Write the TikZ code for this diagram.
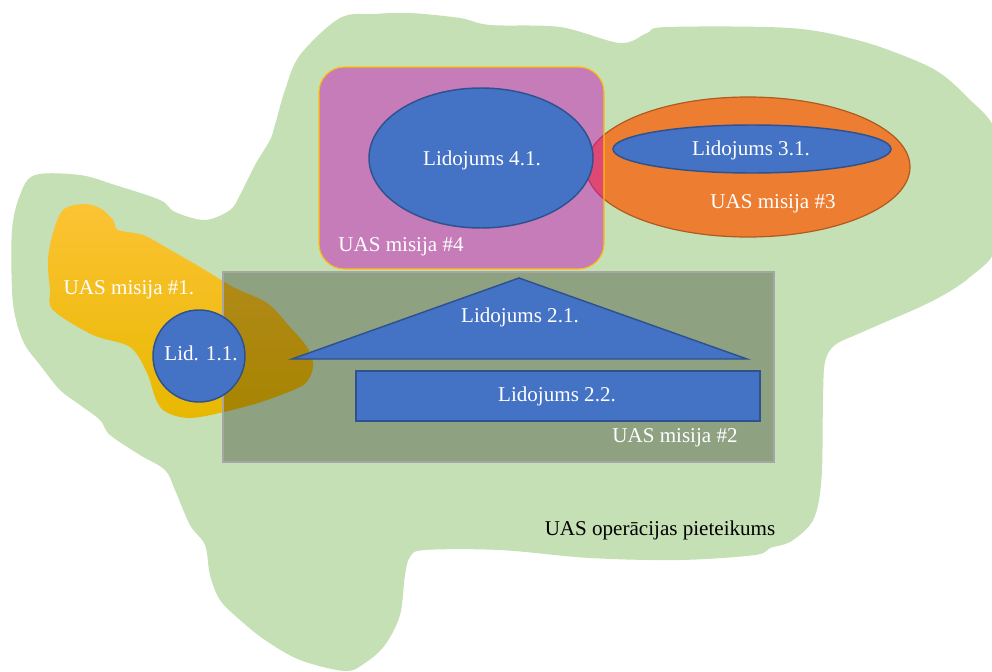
\documentclass[tikz,border=0pt]{standalone}
\usepackage{fontspec}
\setmainfont{Liberation Serif}
\usetikzlibrary{shapes.geometric}
\definecolor{gblob}{HTML}{C5E0B4}
\definecolor{yel}{HTML}{FFC000}
\definecolor{yeltop}{HTML}{FCC334}
\definecolor{yelbot}{HTML}{E8B800}
\definecolor{blu}{HTML}{4472C4}
\definecolor{bluline}{HTML}{2F528F}
\definecolor{org}{HTML}{ED7D31}
\definecolor{orgline}{HTML}{AE5A21}
\definecolor{pnk}{RGB}{203,13,193}
\definecolor{gryline}{HTML}{A6A6A6}
\tikzset{
  flight/.style={fill=blu, draw=bluline, line width=1.1pt},
  lbl/.style={text=white, font=\fontsize{15.8}{18}\selectfont, inner sep=0pt},
  lblk/.style={text=black, font=\fontsize{15.8}{18}\selectfont, inner sep=0pt}
}
\begin{document}
\begin{tikzpicture}[x=0.75pt,y=-0.75pt]
\useasboundingbox (0,0) rectangle (992,671);
\clip (0,0) rectangle (992,671);
% operation area (green)
\fill[gblob] plot[smooth cycle, tension=0.55] coordinates {
(340,18) (375,14) (410,13) (460,18) (490,25) (560,27) (620,43) (647,33) (667,27)
(790,28) (857,40) (907,57) (940,73) (967,97) (995,130) (998,190) (995,250)
(970,277) (947,293) (920,307) (890,320) (858,334) (835,345) (825,362) (823,400)
(822,470) (818,505) (810,525) (790,542) (770,548) (755,555) (680,560) (590,558)
(500,550) (425,550) (410,557) (405,575) (400,615) (385,645) (365,663) (345,671)
(300,660) (265,640) (240,620) (220,600) (210,575) (205,545) (190,525) (175,490)
(165,470) (140,455) (110,435) (100,420) (80,405) (60,390) (40,365) (25,345)
(16,320) (12,290) (12,230) (20,195) (35,175) (80,175) (115,185) (160,200)
(175,212) (205,220) (230,210) (240,195) (255,165) (270,140) (275,125) (285,90) (300,55)};
% mission 1 (yellow)
\shade[top color=yeltop, middle color=yel, bottom color=yelbot] plot[smooth cycle, tension=0.55] coordinates {
(63,210) (83,204) (100,208) (113,220) (118,230) (143,235) (167,248) (200,267)
(233,287) (267,303) (290,327) (307,347) (313,363) (310,377) (300,387) (267,400)
(240,408) (200,417) (180,417) (163,410) (155,397) (147,373) (130,347) (93,335)
(53,310) (50,290) (48,260) (53,233)};
% mission 3 (orange)
\path[fill=org, draw=orgline, line width=0.9pt] (748,167) ellipse [x radius=121.5pt, y radius=52.5pt];
% mission 4 (pink)
\path[fill=pnk, fill opacity=0.47, draw=yel, line width=0.8pt, rounded corners=19pt] (319,67) rectangle (604,269);
% flights 4.1 and 3.1
\path[flight] (481,158) ellipse [x radius=84pt, y radius=52.5pt];
\path[flight] (752,149) ellipse [x radius=104.25pt, y radius=18pt];
% mission 2 (grey)
\path[fill=black, fill opacity=0.28, draw=gryline, line width=0.8pt] (223,272) rectangle (774,462);
\path[flight, line join=miter] (519,278) -- (747,359) -- (292,359) -- cycle;
\path[flight] (356,371) rectangle (760,421);
% flight 1.1
\path[flight] (199,356) circle [radius=34.5pt];
% labels
\node[lbl] (t41) at (482,160) {Lidojums 4.1.};
\node[lbl] (t31) at (751,150) {Lidojums 3.1.};
\node[lbl] (m3) at (773,204) {UAS misija \#3};
\node[lbl] (m4) at (401,247) {UAS misija \#4};
\node[lbl] (m1) at (129,290) {UAS misija \#1.};
\node[lbl] (t11) at (201,353) {Lid. 1.1.};
\node[lbl] (t21) at (520,317) {Lidojums 2.1.};
\node[lbl] (t22) at (557,396) {Lidojums 2.2.};
\node[lbl] (m2) at (675,438) {UAS misija \#2};
\node[lblk] (op) at (660,530) {UAS operācijas pieteikums};
\end{tikzpicture}
\end{document}
